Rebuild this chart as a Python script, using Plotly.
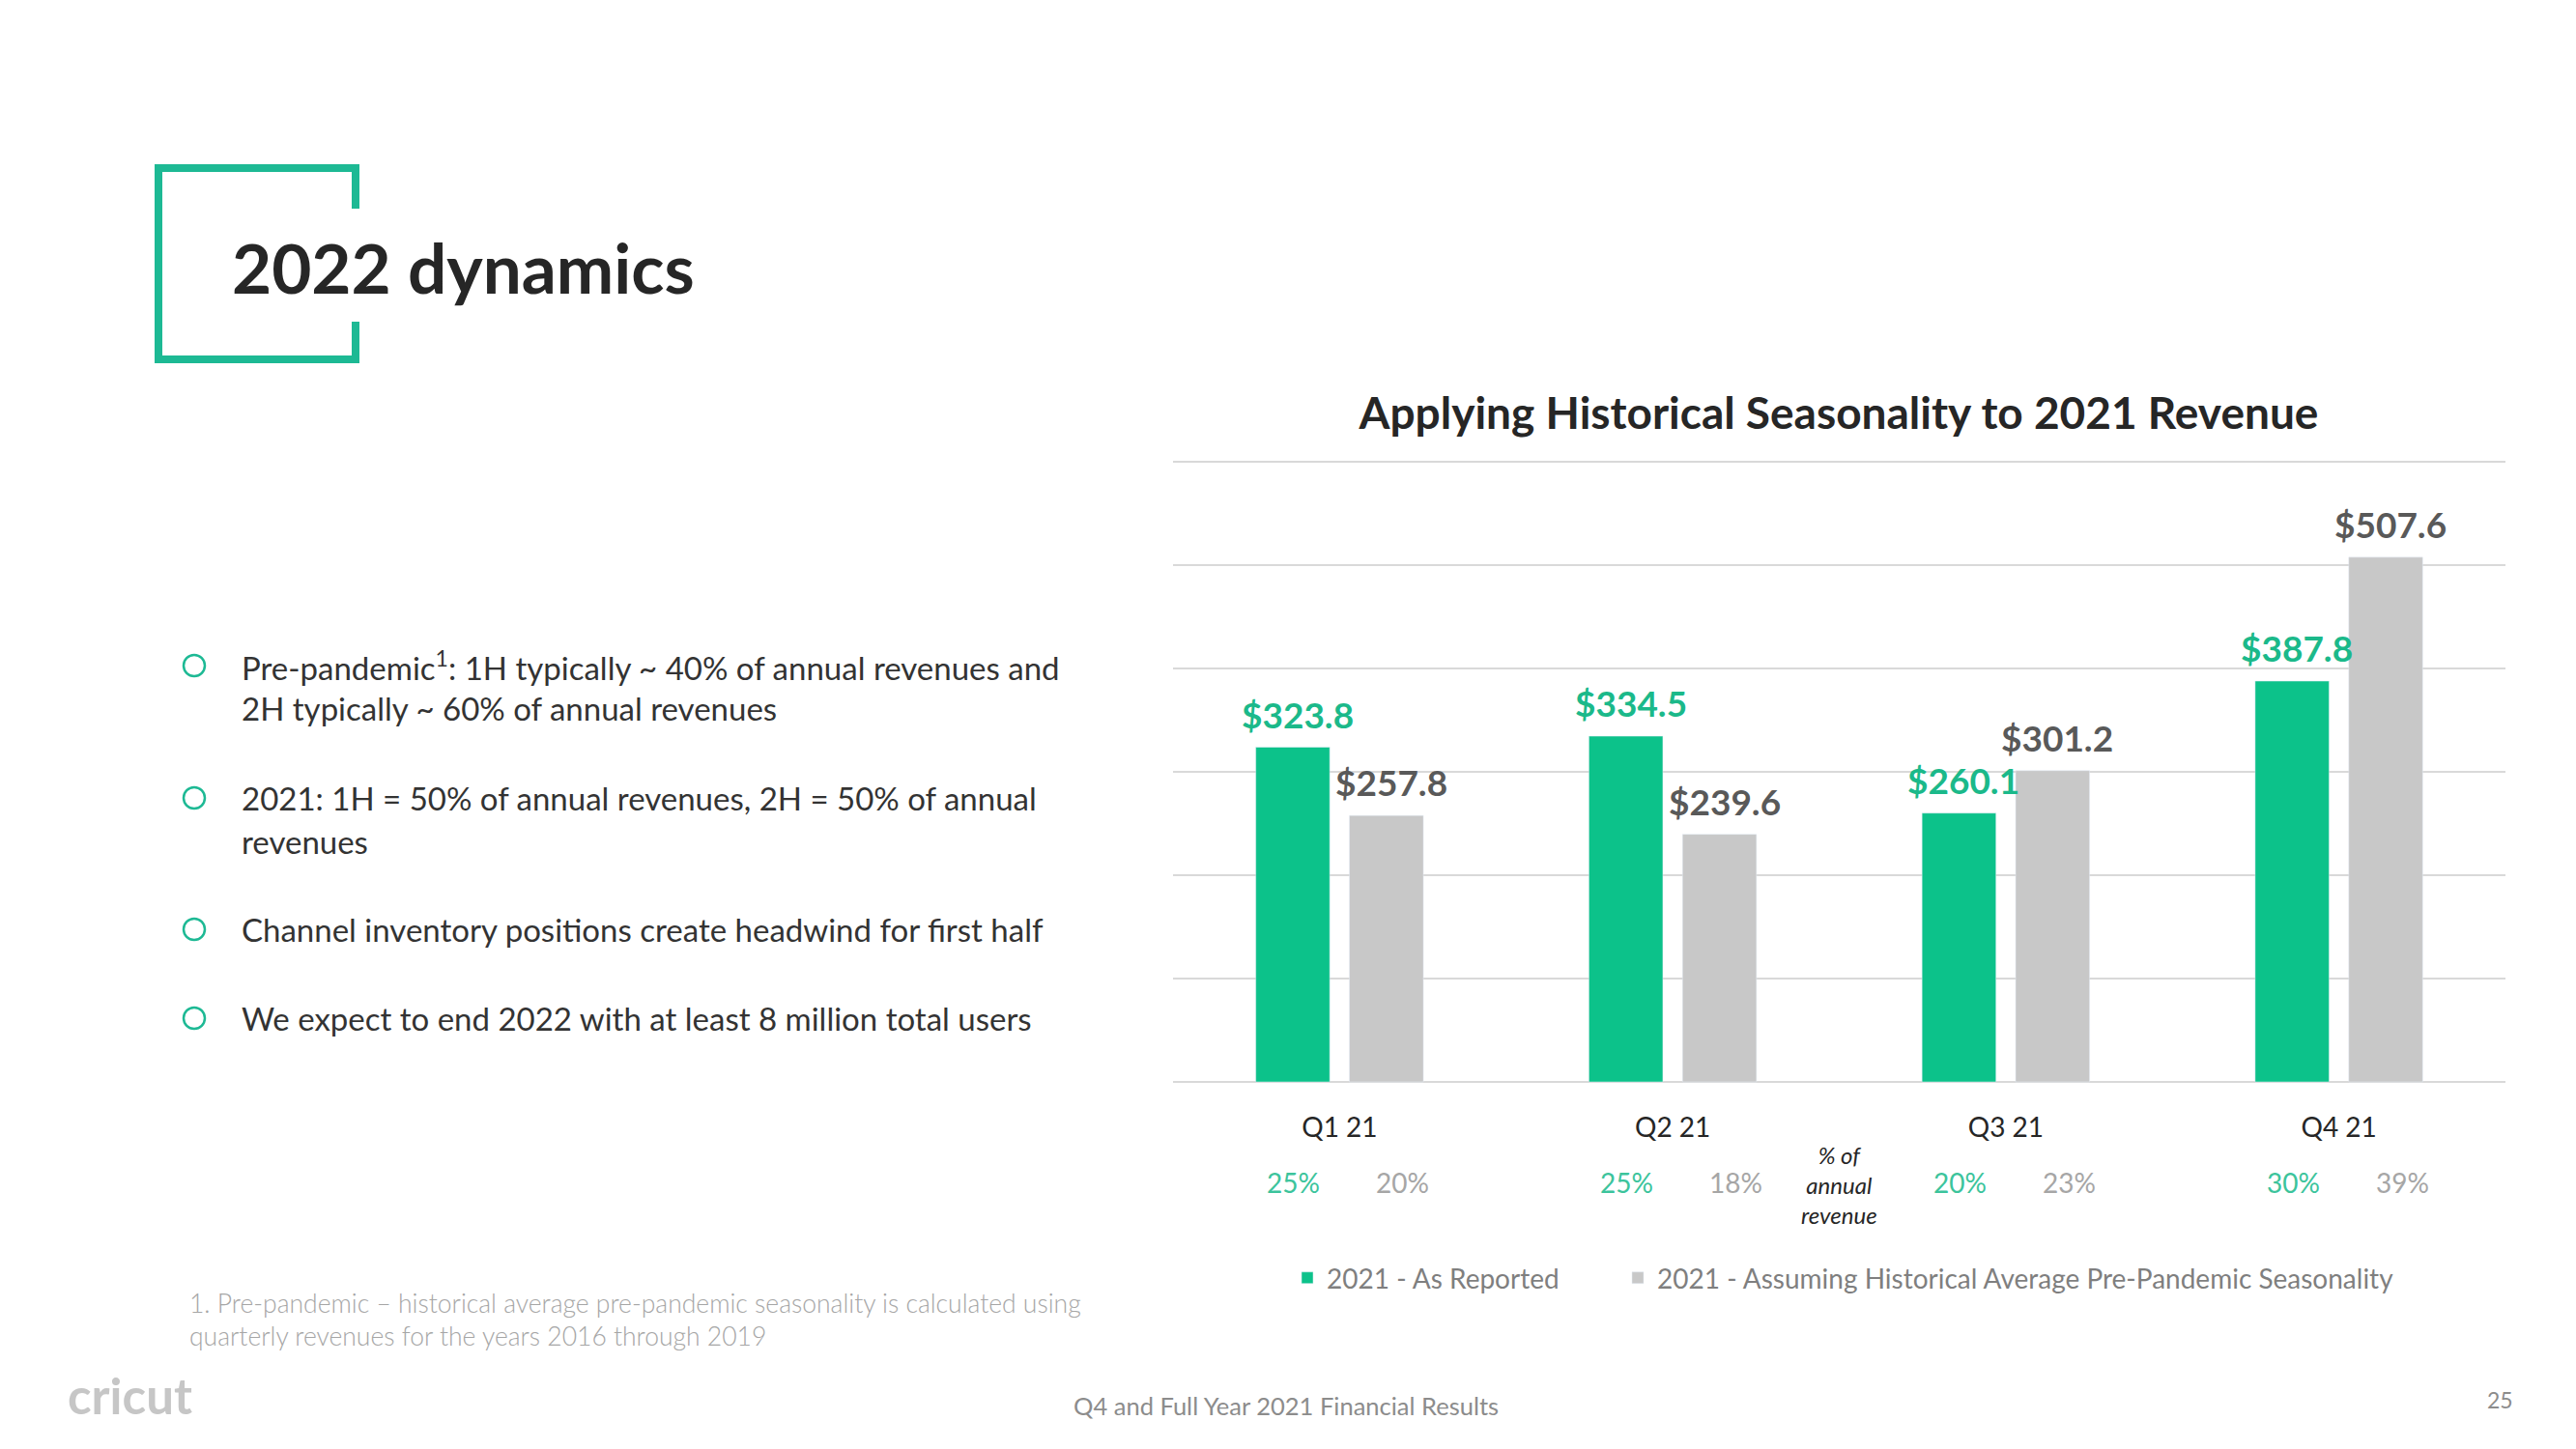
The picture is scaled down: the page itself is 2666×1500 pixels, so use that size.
import plotly.graph_objects as go

W, H = 2650, 1484   # page has 8px body margin; targets below are in window pixels
OFF = 8

quarters = ["Q1 21", "Q2 21", "Q3 21", "Q4 21"]
reported = [323.8, 334.5, 260.1, 387.8]
historical = [257.8, 239.6, 301.2, 507.6]
reported_pct = [25, 25, 20, 30]
historical_pct = [20, 18, 23, 39]
series_names = ["2021 - As Reported", "2021 - Assuming Historical Average Pre-Pandemic Seasonality"]

bullets = [
    ["Pre-pandemic<sup>1</sup>: 1H typically ~ 40% of annual revenues and", "2H typically ~ 60% of annual revenues"],
    ["2021: 1H = 50% of annual revenues, 2H = 50% of annual", "revenues"],
    ["Channel inventory positions create headwind for first half"],
    ["We expect to end 2022 with at least 8 million total users"],
]
footnote = ["1. Pre-pandemic \u2013 historical average pre-pandemic seasonality is calculated using",
            "quarterly revenues for the years 2016 through 2019"]

GREEN = "#0CC28A"
GREEN_TXT = "#1BB98A"
GRAY = "#C8C8C8"
GRAY_TXT = "#595959"
TEAL = "#1DB994"
DARK = "#262626"
FONT = "Lato"


def px(x):
    return (x - OFF) / W


def py(y):
    return 1 - (y - OFF) / H


# y axis: 0..600 maps to window pixels 1120..478
YMIN, YMAX = -2, 603
ppu = (1120 - 478) / 600.0
dom_bottom = 1120 - YMIN * ppu
dom_top = 1120 - YMAX * ppu

fig = go.Figure()
fig.add_trace(go.Bar(x=quarters, y=reported, name=series_names[0], marker_color=GREEN,
                     legend="legend", showlegend=True))
fig.add_trace(go.Bar(x=quarters, y=historical, name=series_names[1], marker_color=GRAY,
                     legend="legend2", showlegend=True))

HALF = 48.5
ann = []
# value labels
for vals, col, sh in [(reported, GREEN_TXT, -HALF), (historical, GRAY_TXT, HALF)]:
    for q, v in zip(quarters, vals):
        ann.append(dict(x=q, y=v, xref="x", yref="y", text=f"${v:.1f}", showarrow=False,
                        xshift=sh + 5, yshift=10, yanchor="bottom",
                        font=dict(family=FONT, size=37, color=col, weight="bold")))
# percentage labels
for pcts, col, sh in [(reported_pct, "#3CC49C", -HALF + 1), (historical_pct, "#A6A6A6", HALF + 17)]:
    for q, p in zip(quarters, pcts):
        ann.append(dict(x=q, y=py(1224), xref="x", yref="paper", text=f"{p}%", showarrow=False,
                        xshift=sh, yanchor="middle",
                        font=dict(family=FONT, size=28, color=col)))
ann.append(dict(x=1.5, y=py(1226), xref="x", yref="paper",
                text="<i>% of<br>annual<br>revenue</i>", showarrow=False, yanchor="middle",
                font=dict(family=FONT, size=24, color=DARK)))

# heading
ann.append(dict(x=px(238), y=py(277), xref="paper", yref="paper", text="<b>2022 dynamics</b>",
                showarrow=False, xanchor="left", yanchor="middle",
                font=dict(family=FONT, size=71, color=DARK)))

# bullets
line_y = [[689, 733], [826, 871], [962], [1054]]
shapes = []
for blines, ys in zip(bullets, line_y):
    shapes.append(dict(type="circle", xref="paper", yref="paper",
                       x0=px(190), x1=px(212), y0=py(ys[0] - 11), y1=py(ys[0] + 11),
                       line=dict(color=TEAL, width=2.5)))
    for t, yy in zip(blines, ys):
        ann.append(dict(x=px(248), y=py(yy), xref="paper", yref="paper", text=t, showarrow=False,
                        xanchor="left", yanchor="middle",
                        font=dict(family=FONT, size=33, color="#333333")))

# footnote
for t, yy in zip(footnote, [1349, 1383]):
    ann.append(dict(x=px(194), y=py(yy), xref="paper", yref="paper", text=t, showarrow=False,
                    xanchor="left", yanchor="middle",
                    font=dict(family=FONT, size=26.5, color="#A6A6A6", weight=300)))

# footer
ann.append(dict(x=px(68), y=py(1444), xref="paper", yref="paper", text="<b>cricut</b>", showarrow=False,
                xanchor="left", yanchor="middle", font=dict(family=FONT, size=51, color="#C6C6C6")))
ann.append(dict(x=px(1331), y=py(1455), xref="paper", yref="paper",
                text="Q4 and Full Year 2021 Financial Results", showarrow=False,
                xanchor="center", yanchor="middle", font=dict(family=FONT, size=25.5, color="#8C8C8C")))
ann.append(dict(x=px(2587), y=py(1449), xref="paper", yref="paper", text="25", showarrow=False,
                xanchor="center", yanchor="middle", font=dict(family=FONT, size=23, color="#8C8C8C")))

# bracket
path = (f"M {px(368)},{py(216)} L {px(368)},{py(174)} L {px(164)},{py(174)} "
        f"L {px(164)},{py(372)} L {px(368)},{py(372)} L {px(368)},{py(333)}")
shapes.append(dict(type="path", xref="paper", yref="paper", path=path,
                   line=dict(color=TEAL, width=8)))

leg_common = dict(orientation="h", yanchor="middle", bgcolor="rgba(0,0,0,0)",
                  font=dict(family=FONT, size=28, color="#7F7F7F"))

fig.update_layout(
    width=W, height=H,
    margin=dict(l=0, r=0, t=0, b=0),
    paper_bgcolor="white", plot_bgcolor="white",
    showlegend=True,
    barmode="group", bargap=0.438, bargroupgap=0.21,
    title=dict(text="<b>Applying Historical Seasonality to 2021 Revenue</b>",
               x=px(1903), y=py(428), xref="paper", yref="paper", xanchor="center", yanchor="middle",
               font=dict(family=FONT, size=46, color=DARK)),
    xaxis=dict(domain=[px(1214), px(2593)], showgrid=False, showline=False, ticks="",
               tickfont=dict(family=FONT, size=28, color=DARK), ticklabelstandoff=26),
    yaxis=dict(domain=[py(dom_bottom), py(dom_top)], range=[YMIN, YMAX], dtick=100, showticklabels=False,
               showgrid=True, gridcolor="#D9D9D9", gridwidth=2, zeroline=False, showline=False),
    legend=dict(x=px(1333), y=py(1323), xanchor="left", **leg_common),
    legend2=dict(x=px(1675), y=py(1323), xanchor="left", **leg_common),
    annotations=ann, shapes=shapes,
    font=dict(family=FONT),
)

fig.write_html("out.html", config={"displayModeBar": False})
